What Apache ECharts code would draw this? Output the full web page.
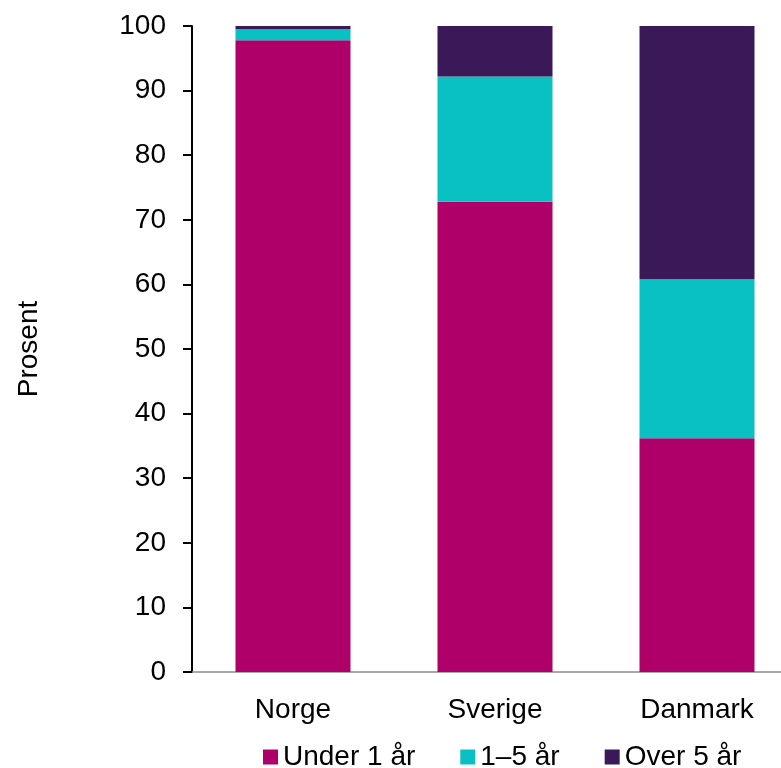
<!DOCTYPE html>
<html>
<head>
<meta charset="utf-8">
<script src="https://cdn.jsdelivr.net/npm/echarts@6/dist/echarts.min.js"></script>
<style>
  html, body { margin: 0; padding: 0; background: #fff; overflow: hidden; }
  /* canvas is a little wider than the window: the last category runs off the right edge */
  #chart { width: 800px; height: 768px; }
</style>
</head>
<body>
<div id="chart"></div>
<script>
// Share of each duration group per country (percent)
const countries = ['Norge', 'Sverige', 'Danmark'];
const seriesNames = ['Under 1 år', '1–5 år', 'Over 5 år'];
const under1 = [97.8, 72.8, 36.2];
const from1to5 = [1.7, 19.4, 24.6];
const over5 = [0.5, 7.8, 39.2];
const yTicks = [0, 10, 20, 30, 40, 50, 60, 70, 80, 90, 100];

const colors = ['#AE0068', '#09C0C2', '#3B1858'];
const font = 'Liberation Sans, Arial, sans-serif';

const chart = echarts.init(document.getElementById('chart'), null, { renderer: 'canvas' });

const values = [under1, from1to5, over5];

chart.setOption({
  animation: false,
  grid: { left: 192, top: 26, height: 646, width: 606, containLabel: false },
  legend: {
    left: 258,
    top: 738,
    itemWidth: 15,
    itemHeight: 15,
    itemGap: 45,
    icon: 'rect',
    textStyle: { fontFamily: font, fontSize: 28, color: '#000' },
    data: seriesNames
  },
  xAxis: {
    type: 'category',
    data: countries,
    axisLine: { lineStyle: { color: '#8c8c8c', width: 1.5 } },
    axisTick: { length: 8, lineStyle: { color: '#8c8c8c', width: 1.5 } },
    axisLabel: { fontFamily: font, fontSize: 28, color: '#000', margin: 24 }
  },
  yAxis: {
    type: 'value',
    min: yTicks[0],
    max: yTicks[yTicks.length - 1],
    interval: yTicks[1] - yTicks[0],
    name: 'Prosent',
    nameLocation: 'middle',
    nameRotate: 90,
    nameGap: 149,
    nameTextStyle: { fontFamily: font, fontSize: 28, color: '#000' },
    axisLine: { show: true, lineStyle: { color: '#000', width: 2 } },
    axisTick: { show: true, length: 9, lineStyle: { color: '#000', width: 2 } },
    splitLine: { show: false },
    axisLabel: { fontFamily: font, fontSize: 28, color: '#000', margin: 26 }
  },
  series: seriesNames.map((name, i) => ({
    name: name,
    type: 'bar',
    stack: 'total',
    barWidth: 115,
    itemStyle: { color: colors[i] },
    data: values[i]
  }))
});
</script>
</body>
</html>
